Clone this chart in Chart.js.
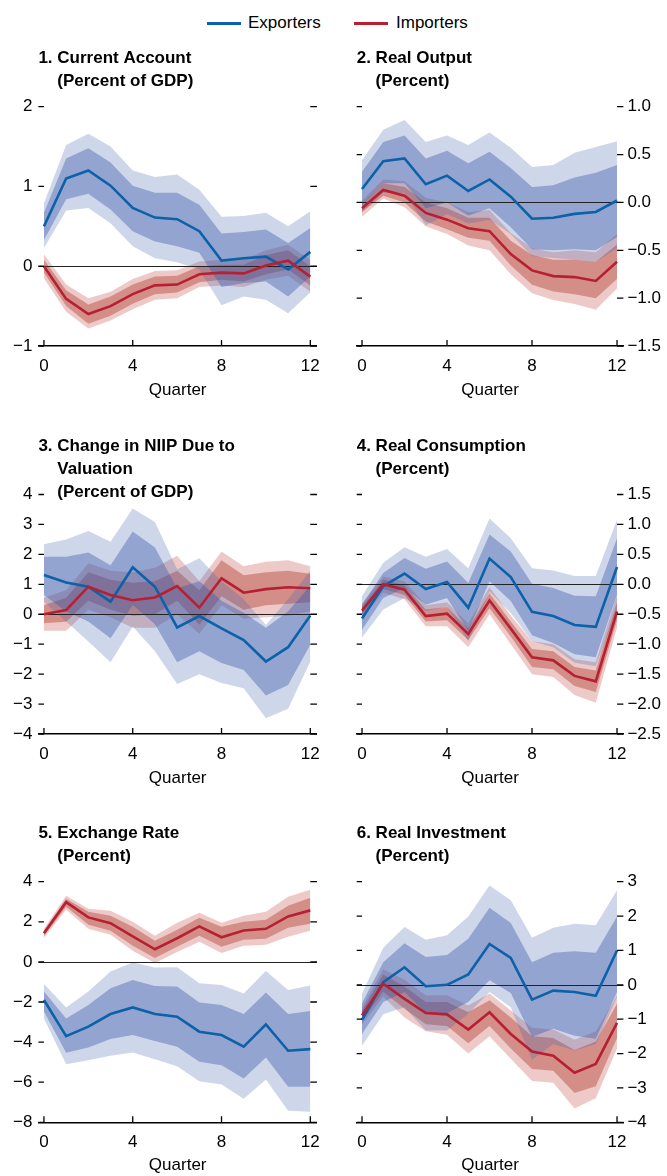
<!DOCTYPE html>
<html>
<head>
<meta charset="utf-8">
<script src="https://cdn.jsdelivr.net/npm/chart.js@4.4.1/dist/chart.umd.min.js"></script>
<style>
  body { margin: 0; width: 667px; height: 1176px; position: relative; overflow: hidden; background: #fff;
         font-family: "Liberation Sans", Arial, sans-serif; color: #000; }
  canvas { position: absolute; }
  .key { position: absolute; top: 22px; width: 34px; height: 3px; }
  .lab { position: absolute; top: 13px; font-size: 17px; line-height: 20px; }
</style>
</head>
<body>
<div class="key" style="left:207px;background:#0b62a8"></div>
<div class="lab" style="left:248px">Exporters</div>
<div class="key" style="left:354px;background:#b71f32"></div>
<div class="lab" style="left:396px">Importers</div>

<script>
const quarters = [0, 1, 2, 3, 4, 5, 6, 7, 8, 9, 10, 11, 12];
const quarterTicks = [0, 4, 8, 12];

// 1. Current account
const caTicks = [-1, 0, 1, 2];
const caExp = [0.5, 1.1, 1.2, 1.01, 0.73, 0.61, 0.59, 0.44, 0.07, 0.1, 0.12, -0.04, 0.18];
const caExpInHi = [0.67, 1.35, 1.48, 1.3, 1.01, 0.92, 0.92, 0.77, 0.41, 0.43, 0.46, 0.29, 0.48];
const caExpInLo = [0.33, 0.84, 0.91, 0.71, 0.44, 0.31, 0.25, 0.17, -0.26, -0.21, -0.19, -0.38, -0.13];
const caExpOutHi = [0.79, 1.52, 1.66, 1.5, 1.2, 1.12, 1.15, 0.96, 0.62, 0.63, 0.67, 0.5, 0.69];
const caExpOutLo = [0.23, 0.7, 0.73, 0.54, 0.25, 0.1, 0.05, -0.04, -0.49, -0.38, -0.42, -0.59, -0.33];
const caImp = [0, -0.41, -0.6, -0.5, -0.35, -0.24, -0.23, -0.1, -0.08, -0.09, 0.01, 0.07, -0.13];
const caImpInHi = [0.08, -0.3, -0.48, -0.38, -0.23, -0.13, -0.12, 0, 0.02, 0.02, 0.14, 0.2, 0];
const caImpInLo = [-0.08, -0.5, -0.72, -0.62, -0.47, -0.35, -0.33, -0.2, -0.17, -0.19, -0.1, -0.04, -0.24];
const caImpOutHi = [0.15, -0.23, -0.4, -0.32, -0.16, -0.06, -0.05, 0.06, 0.08, 0.08, 0.2, 0.27, 0.08];
const caImpOutLo = [-0.15, -0.57, -0.78, -0.68, -0.54, -0.42, -0.4, -0.26, -0.24, -0.26, -0.17, -0.12, -0.32];

// 2. Real output
const outTicks = [-1.5, -1, -0.5, 0, 0.5, 1];
const outExp = [0.14, 0.43, 0.46, 0.19, 0.28, 0.12, 0.24, 0.06, -0.17, -0.16, -0.12, -0.1, 0.02];
const outExpInHi = [0.32, 0.63, 0.7, 0.46, 0.54, 0.41, 0.53, 0.36, 0.16, 0.18, 0.26, 0.31, 0.39];
const outExpInLo = [-0.03, 0.2, 0.2, -0.06, 0, -0.14, -0.06, -0.26, -0.49, -0.5, -0.49, -0.5, -0.36];
const outExpOutHi = [0.44, 0.76, 0.86, 0.63, 0.7, 0.6, 0.73, 0.57, 0.37, 0.39, 0.52, 0.58, 0.64];
const outExpOutLo = [-0.1, 0.1, 0.1, -0.24, -0.12, -0.22, -0.18, -0.33, -0.56, -0.58, -0.6, -0.62, -0.48];
const outImp = [-0.06, 0.13, 0.07, -0.11, -0.18, -0.27, -0.3, -0.54, -0.71, -0.77, -0.78, -0.82, -0.62];
const outImpInHi = [-0.02, 0.2, 0.16, 0, -0.06, -0.16, -0.16, -0.4, -0.55, -0.6, -0.6, -0.62, -0.44];
const outImpInLo = [-0.1, 0.07, 0, -0.2, -0.28, -0.37, -0.4, -0.66, -0.86, -0.93, -0.96, -1, -0.8];
const outImpOutHi = [0.02, 0.24, 0.22, 0.05, 0, -0.1, -0.08, -0.32, -0.48, -0.52, -0.5, -0.52, -0.33];
const outImpOutLo = [-0.15, 0.04, -0.05, -0.25, -0.33, -0.45, -0.5, -0.75, -0.95, -1.02, -1.06, -1.12, -0.9];

// 3. Change in NIIP due to valuation
const niipTicks = [-4, -3, -2, -1, 0, 1, 2, 3, 4];
const niipExp = [1.31, 1.06, 0.92, 0.42, 1.57, 0.92, -0.44, -0.06, -0.47, -0.86, -1.58, -1.1, -0.04];
const niipExpInHi = [1.92, 1.92, 2.06, 1.64, 2.76, 2.23, 0.87, 1.1, 0.45, 0.05, -0.45, 0.1, 0.95];
const niipExpInLo = [0.64, 0.09, -0.24, -0.8, 0.31, -0.33, -1.6, -1.24, -1.63, -1.86, -2.71, -2.36, -1.02];
const niipExpOutHi = [2.34, 2.5, 2.78, 2.42, 3.53, 3.08, 1.5, 1.87, 1.1, 0.5, -0.36, 0.5, 1.45];
const niipExpOutLo = [0.42, -0.24, -0.91, -1.6, -0.41, -1.24, -2.33, -2, -2.3, -2.47, -3.47, -3.16, -1.58];
const niipImp = [0, 0.14, 0.92, 0.64, 0.47, 0.56, 0.94, 0.22, 1.2, 0.72, 0.84, 0.9, 0.87];
const niipImpInHi = [0.3, 0.55, 1.4, 1.15, 1.05, 1.1, 1.45, 0.8, 1.8, 1.3, 1.4, 1.45, 1.35];
const niipImpInLo = [-0.3, -0.25, 0.45, 0.15, -0.05, 0, 0.45, -0.35, 0.6, 0.15, 0.3, 0.35, 0.4];
const niipImpOutHi = [0.55, 0.8, 1.7, 1.45, 1.4, 1.55, 1.95, 1.1, 2.1, 1.6, 1.75, 1.8, 1.6];
const niipImpOutLo = [-0.55, -0.55, 0.15, -0.1, -0.45, -0.45, 0, -0.65, 0.3, -0.15, -0.1, -0.05, 0.1];

// 4. Real consumption
const consTicks = [-2.5, -2, -1.5, -1, -0.5, 0, 0.5, 1, 1.5];
const consExp = [-0.57, -0.03, 0.18, -0.08, 0.04, -0.39, 0.43, 0.12, -0.46, -0.53, -0.68, -0.71, 0.29];
const consExpInHi = [-0.34, 0.19, 0.44, 0.26, 0.38, 0.02, 0.83, 0.55, 0.01, -0.06, -0.19, -0.2, 0.77];
const consExpInLo = [-0.76, -0.23, -0.06, -0.34, -0.23, -0.78, 0.05, -0.28, -0.85, -0.98, -1.17, -1.22, -0.17];
const consExpOutHi = [-0.2, 0.36, 0.62, 0.46, 0.59, 0.27, 1.1, 0.77, 0.27, 0.23, 0.14, 0.14, 1.08];
const consExpOutLo = [-0.89, -0.42, -0.23, -0.45, -0.37, -0.95, -0.12, -0.48, -0.95, -1.05, -1.31, -1.37, -0.42];
const consImp = [-0.44, 0, -0.09, -0.53, -0.49, -0.83, -0.27, -0.74, -1.22, -1.27, -1.53, -1.62, -0.45];
const consImpInHi = [-0.38, 0.08, -0.02, -0.42, -0.38, -0.74, -0.15, -0.62, -1.08, -1.12, -1.38, -1.44, -0.3];
const consImpInLo = [-0.5, -0.08, -0.18, -0.62, -0.6, -0.93, -0.4, -0.87, -1.38, -1.42, -1.7, -1.8, -0.6];
const consImpOutHi = [-0.32, 0.13, 0.05, -0.35, -0.3, -0.65, -0.05, -0.52, -0.95, -1, -1.25, -1.3, -0.18];
const consImpOutLo = [-0.56, -0.14, -0.25, -0.7, -0.7, -1.05, -0.5, -1, -1.5, -1.55, -1.85, -1.98, -0.72];

// 5. Exchange rate
const fxTicks = [-8, -6, -4, -2, 0, 2, 4];
const fxExp = [-1.9, -3.7, -3.23, -2.6, -2.27, -2.6, -2.73, -3.48, -3.65, -4.23, -3.12, -4.43, -4.35];
const fxExpInHi = [-1.48, -2.82, -2.15, -1.32, -0.9, -1.2, -1.23, -2.02, -2.15, -2.6, -1.52, -2.6, -2.45];
const fxExpInLo = [-2.48, -4.53, -4.27, -3.85, -3.65, -3.95, -4.23, -4.98, -5.15, -5.82, -4.77, -6.23, -6.23];
const fxExpOutHi = [-1.1, -2.27, -1.48, -0.48, -0.03, -0.28, -0.27, -1.07, -1.15, -1.57, -0.45, -1.4, -1.18];
const fxExpOutLo = [-2.82, -5.1, -4.9, -4.68, -4.52, -4.85, -5.2, -5.95, -6.12, -6.82, -5.87, -7.43, -7.48];
const fxImp = [1.43, 2.98, 2.22, 1.93, 1.27, 0.63, 1.18, 1.77, 1.23, 1.57, 1.65, 2.27, 2.57];
const fxImpInHi = [1.55, 3.15, 2.5, 2.3, 1.75, 1.05, 1.6, 2.2, 1.75, 2, 2.1, 2.8, 3.2];
const fxImpInLo = [1.3, 2.75, 1.85, 1.55, 0.8, 0.2, 0.75, 1.3, 0.75, 1.1, 1.15, 1.7, 1.9];
const fxImpOutHi = [1.65, 3.3, 2.65, 2.55, 2, 1.3, 1.95, 2.45, 1.95, 2.3, 2.5, 3.25, 3.6];
const fxImpOutLo = [1.2, 2.6, 1.65, 1.35, 0.55, -0.05, 0.5, 1, 0.45, 0.8, 0.85, 1.25, 1.55];

// 6. Real investment
const invTicks = [-4, -3, -2, -1, 0, 1, 2, 3];
const invExp = [-1.02, 0.08, 0.51, -0.04, 0, 0.3, 1.19, 0.78, -0.43, -0.17, -0.21, -0.32, 1];
const invExpInHi = [-0.53, 0.66, 1.21, 0.81, 0.87, 1.34, 2.24, 1.8, 0.66, 0.93, 0.98, 0.93, 1.99];
const invExpInLo = [-1.43, -0.5, -0.21, -0.83, -0.83, -0.5, 0.13, -0.24, -1.52, -1.28, -1.48, -1.57, -0.21];
const invExpOutHi = [-0.26, 1.08, 1.68, 1.31, 1.44, 1.99, 2.89, 2.46, 1.37, 1.66, 1.78, 1.73, 2.75];
const invExpOutLo = [-1.77, -0.86, -0.65, -1.33, -1.33, -0.84, -0.21, -0.65, -2.18, -1.72, -1.91, -1.72, -0.36];
const invImp = [-0.89, 0.03, -0.41, -0.82, -0.86, -1.3, -0.8, -1.43, -1.94, -2.06, -2.56, -2.3, -1.11];
const invImpInHi = [-0.75, 0.3, -0.05, -0.5, -0.5, -0.8, -0.45, -0.95, -1.5, -1.55, -1.9, -1.65, -0.55];
const invImpInLo = [-1.05, -0.2, -0.7, -1.15, -1.2, -1.7, -1.2, -1.85, -2.45, -2.5, -3.15, -2.95, -1.55];
const invImpOutHi = [-0.65, 0.45, 0.15, -0.3, -0.3, -0.6, -0.25, -0.75, -1.25, -1.3, -1.6, -1.35, -0.3];
const invImpOutLo = [-1.15, -0.35, -0.95, -1.35, -1.45, -2, -1.5, -2.15, -2.8, -2.85, -3.6, -3.3, -1.85];

const BLUE = '#0b62a8';
const RED = '#b71f32';
const BLUE_OUT = 'rgba(60, 90, 170, 0.25)';
const BLUE_IN = 'rgba(60, 90, 170, 0.40)';
const RED_OUT = 'rgba(190, 60, 50, 0.27)';
const RED_IN = 'rgba(180, 70, 60, 0.45)';
const FONT = '"Liberation Sans", Arial, sans-serif';

Chart.defaults.font.family = FONT;
Chart.defaults.font.size = 17;
Chart.defaults.color = '#000';

// page layout: two columns, three rows (chart area edges in page px)
const cols = [
  { x: 0, w: 330, left: 38.4, right: 319.8, side: 'left' },
  { x: 330, w: 337, left: 356.7, right: 623.4, side: 'right' }
];
const rows = [
  { y: 40, h: 361, top: 106.7, bottom: 346 },
  { y: 425, h: 364.3, top: 494.5, bottom: 734.3 },
  { y: 810, h: 366, top: 881.7, bottom: 1122.3 }
];

const panels = [
  { title: ['1. Current Account', '(Percent of GDP)'], ticks: caTicks, dec: 0,
    exp: [caExp, caExpInHi, caExpInLo, caExpOutHi, caExpOutLo],
    imp: [caImp, caImpInHi, caImpInLo, caImpOutHi, caImpOutLo] },
  { title: ['2. Real Output', '(Percent)'], ticks: outTicks, dec: 1,
    exp: [outExp, outExpInHi, outExpInLo, outExpOutHi, outExpOutLo],
    imp: [outImp, outImpInHi, outImpInLo, outImpOutHi, outImpOutLo] },
  { title: ['3. Change in NIIP Due to', 'Valuation', '(Percent of GDP)'], ticks: niipTicks, dec: 0,
    exp: [niipExp, niipExpInHi, niipExpInLo, niipExpOutHi, niipExpOutLo],
    imp: [niipImp, niipImpInHi, niipImpInLo, niipImpOutHi, niipImpOutLo] },
  { title: ['4. Real Consumption', '(Percent)'], ticks: consTicks, dec: 1,
    exp: [consExp, consExpInHi, consExpInLo, consExpOutHi, consExpOutLo],
    imp: [consImp, consImpInHi, consImpInLo, consImpOutHi, consImpOutLo] },
  { title: ['5. Exchange Rate', '(Percent)'], ticks: fxTicks, dec: 0,
    exp: [fxExp, fxExpInHi, fxExpInLo, fxExpOutHi, fxExpOutLo],
    imp: [fxImp, fxImpInHi, fxImpInLo, fxImpOutHi, fxImpOutLo] },
  { title: ['6. Real Investment', '(Percent)'], ticks: invTicks, dec: 0,
    exp: [invExp, invExpInHi, invExpInLo, invExpOutHi, invExpOutLo],
    imp: [invImp, invImpInHi, invImpInLo, invImpOutHi, invImpOutLo] }
];

function pts(values) {
  return quarters.map((q, i) => ({ x: q, y: values[i] }));
}

function fmt(v, dec) {
  return Number(v).toFixed(dec).replace('-', '\u2212');
}

function line(values, color, order) {
  return { data: pts(values), borderColor: color, borderWidth: 2.6, pointRadius: 0, tension: 0, fill: false, order };
}

function band(hi, lo, color, order) {
  return [
    { data: pts(hi), fill: '+1', backgroundColor: color, borderColor: 'transparent', borderWidth: 0, pointRadius: 0, order },
    { data: pts(lo), fill: false, borderColor: 'transparent', borderWidth: 0, pointRadius: 0, order }
  ];
}

// zero line, inward tick marks and the panel title
const panelDecor = {
  id: 'panelDecor',
  beforeDatasetDraw(chart, args) {
    if (args.index !== 0) return;
    const { ctx, chartArea, scales } = chart;
    const y0 = Math.round(scales.y.getPixelForValue(0)) + 0.5;
    ctx.save();
    ctx.strokeStyle = '#222';
    ctx.lineWidth = 1;
    ctx.beginPath();
    ctx.moveTo(chartArea.left, y0);
    ctx.lineTo(chartArea.right, y0);
    ctx.stroke();
    ctx.restore();
  },
  afterDraw(chart) {
    const { ctx, chartArea, scales } = chart;
    const p = chart.options.plugins.panelDecor;
    const x0 = scales.x.getPixelForValue(quarters[0]);
    const x12 = scales.x.getPixelForValue(quarters[quarters.length - 1]);
    ctx.save();
    ctx.strokeStyle = '#000';
    ctx.lineWidth = 1.3;
    ctx.beginPath();
    p.ticks.forEach(v => {
      const y = scales.y.getPixelForValue(v);
      ctx.moveTo(chartArea.left, y);
      ctx.lineTo(x0, y);
      ctx.moveTo(x12, y);
      ctx.lineTo(chartArea.right, y);
    });
    quarterTicks.forEach(q => {
      const x = scales.x.getPixelForValue(q);
      ctx.moveTo(x, chartArea.bottom);
      ctx.lineTo(x, chartArea.bottom - 6);
    });
    ctx.stroke();

    ctx.fillStyle = '#000';
    ctx.font = 'bold 17px ' + FONT;
    ctx.textBaseline = 'alphabetic';
    const indent = ctx.measureText(p.title[0].split(' ')[0] + ' ').width;
    p.title.forEach((t, i) => {
      ctx.fillText(t, chartArea.left + (i ? indent : 0), chartArea.top - 44 + 23 * i);
    });
    ctx.restore();
  }
};

panels.forEach((p, n) => {
  const col = cols[n % 2];
  const row = rows[Math.floor(n / 2)];
  const canvas = document.createElement('canvas');
  canvas.width = col.w;
  canvas.height = row.h;
  canvas.style.left = col.x + 'px';
  canvas.style.top = row.y + 'px';
  canvas.style.width = col.w + 'px';
  canvas.style.height = row.h + 'px';
  document.body.appendChild(canvas);

  const yAxisW = col.side === 'left' ? col.left - col.x : col.x + col.w - col.right;
  const xAxisH = row.y + row.h - row.bottom;

  new Chart(canvas.getContext('2d'), {
    type: 'line',
    data: {
      datasets: [
        line(p.exp[0], BLUE, 1),
        line(p.imp[0], RED, 0),
        ...band(p.exp[3], p.exp[4], BLUE_OUT, 3),
        ...band(p.exp[1], p.exp[2], BLUE_IN, 2),
        ...band(p.imp[3], p.imp[4], RED_OUT, 5),
        ...band(p.imp[1], p.imp[2], RED_IN, 4)
      ]
    },
    options: {
      responsive: false,
      animation: false,
      events: [],
      layout: {
        padding: {
          top: row.top - row.y,
          bottom: 0,
          left: col.side === 'left' ? 0 : col.left - col.x,
          right: col.side === 'left' ? col.x + col.w - col.right : 0
        }
      },
      plugins: {
        legend: { display: false },
        tooltip: { enabled: false },
        panelDecor: { title: p.title, ticks: p.ticks }
      },
      scales: {
        x: {
          type: 'linear',
          min: -0.25,
          max: 12.3,
          afterBuildTicks: s => { s.ticks = quarterTicks.map(v => ({ value: v })); },
          afterFit: s => { s.height = xAxisH; },
          grid: { display: false, drawTicks: false },
          border: { display: true, color: '#000', width: 1.5 },
          ticks: { padding: 10, maxRotation: 0, autoSkip: false, callback: v => String(v) },
          title: { display: true, text: 'Quarter', padding: 0 }
        },
        y: {
          position: col.side,
          min: p.ticks[0],
          max: p.ticks[p.ticks.length - 1],
          afterBuildTicks: s => { s.ticks = p.ticks.map(v => ({ value: v })); },
          afterFit: s => { s.width = yAxisW; },
          grid: { display: false, drawTicks: false },
          border: { display: false },
          ticks: { padding: col.side === 'left' ? 6 : 4, autoSkip: false, callback: v => fmt(v, p.dec) }
        }
      }
    },
    plugins: [panelDecor]
  });
});
</script>
</body>
</html>
